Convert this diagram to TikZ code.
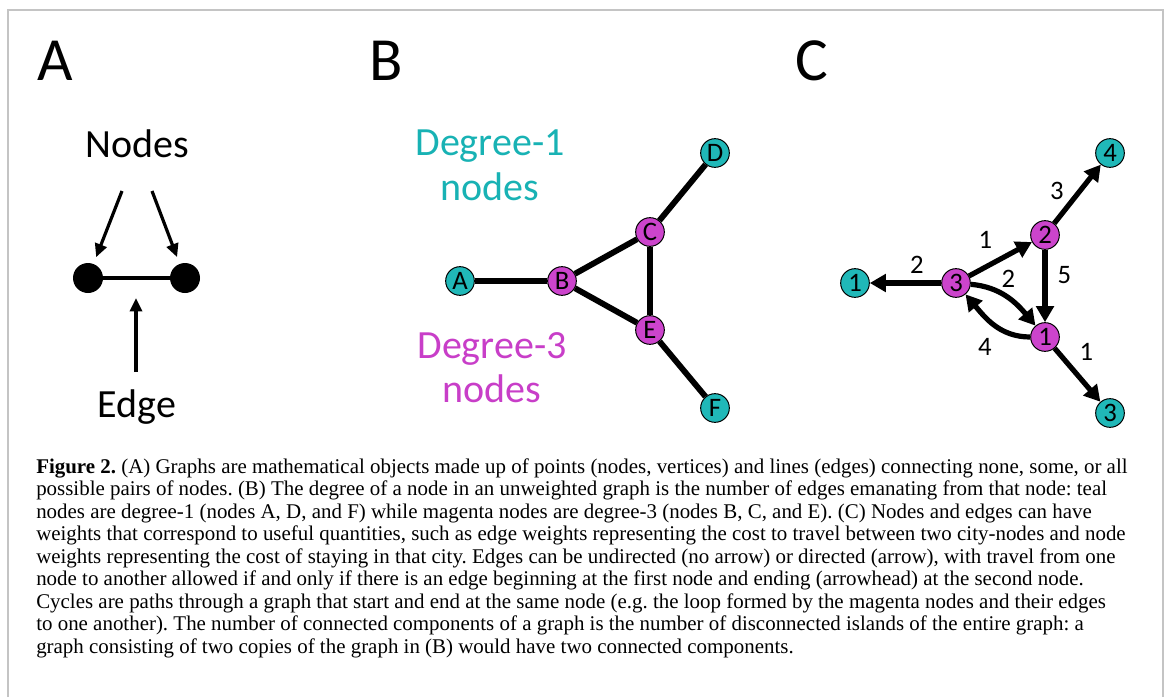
\documentclass[tikz,border=0pt]{standalone}
\usepackage{fontspec}
\setmainfont{Liberation Serif}
\newfontfamily\figfont{Carlito}
\usepackage{xcolor}
\usetikzlibrary{arrows.meta,positioning,calc}
\frenchspacing

\definecolor{tealnode}{RGB}{32,184,184}
\definecolor{magnode}{RGB}{204,68,204}
\definecolor{tealtext}{RGB}{24,178,180}
\definecolor{magtext}{RGB}{200,62,200}
\definecolor{framegray}{RGB}{196,196,196}

\begin{document}
\begin{tikzpicture}[
    x=0.75pt, y=0.75pt,
    panel/.style={font=\figfont\fontsize{46}{46}\selectfont, anchor=base, inner sep=0pt},
    bigtext/.style={font=\figfont\fontsize{30}{34}\selectfont, anchor=base, inner sep=0pt},
    vert/.style={circle, draw, line width=0.75pt, minimum size=21.5pt, inner sep=0pt, font=\figfont\fontsize{20}{20}\selectfont},
    leaf/.style={vert, fill=tealnode},
    hub/.style={vert, fill=magnode},
    dot/.style={circle, fill=black, minimum size=22.5pt, inner sep=0pt},
    link/.style={line width=4.4pt},
    ptr/.style={-{Triangle[length=10pt,width=9pt]}, line width=2.4pt},
    warc/.style={-{Triangle[length=12pt,width=13pt]}, line width=3.9pt},
    wt/.style={font=\figfont\fontsize{20}{20}\selectfont, inner sep=1pt},
    capline/.style={anchor=base west, inner sep=0pt, font=\fontsize{15.7}{18}\selectfont}
]
\useasboundingbox (0,0) rectangle (1167,-697);
\draw[framegray, line width=1.1pt] (8,-697) -- (8,-10) -- (1163,-10) -- (1163,-697);

% panel A
\node[panel] (pa) at (55,-80) {A};
\node[bigtext] (lblnodes) at (137,-157) {Nodes};
\node[bigtext] (lbledge) at (137,-417) {Edge};
\node[dot] (dotl) at (88,-278) {};
\node[dot] (dotr) at (185,-278) {};
\coordinate (nl) at (122,-191);
\coordinate (nr) at (152,-191);
\coordinate (eb) at (136,-372);
\coordinate (etip) at (136,-298);
\draw[line width=3pt] (dotl) -- (dotr);
\draw[ptr, shorten >=5.3pt] (nl) -- (dotl);
\draw[ptr, shorten >=5.3pt] (nr) -- (dotr);
\draw[ptr] (eb) -- (etip);

% panel B
\node[panel] (pb) at (386,-80) {B};
\node[bigtext, text=tealtext] (deg1) at (490,-155) {Degree-1};
\node[bigtext, text=tealtext] (deg1n) at (490,-200) {nodes};
\node[bigtext, text=magtext] (deg3) at (492,-358) {Degree-3};
\node[bigtext, text=magtext] (deg3n) at (492,-402) {nodes};
\node[leaf] (a) at (460,-281) {A};
\node[hub] (b) at (562,-281) {B};
\node[hub] (c) at (650,-232) {C};
\node[leaf] (d) at (715,-153) {D};
\node[hub] (e) at (650,-330) {E};
\node[leaf] (f) at (715,-408) {F};
\foreach \u/\v in {a/b,b/c,b/e,c/e,c/d,e/f} {
    \draw[link] (\u) -- (\v);
}

% panel C
\node[panel] (pc) at (812,-80) {C};
\node[leaf] (t1) at (855,-283) {1};
\node[hub] (m3) at (956,-283) {3};
\node[hub] (m2) at (1045,-235) {2};
\node[hub] (m1) at (1045,-337) {1};
\node[leaf] (t4) at (1110,-153) {4};
\node[leaf] (t3) at (1110,-413) {3};
\draw[warc] (m3) -- node[wt, pos=0.34, above=4pt] {2} (t1);
\draw[warc] (m3) -- node[wt, pos=0.45, above left=6pt and 1pt] {1} (m2);
\draw[warc] (m2) -- node[wt, pos=0.36, above left=-1pt and 2.5pt] {3} (t4);
\draw[warc] (m2) -- node[wt, pos=0.35, right=6.5pt] {5} (m1);
\draw[warc] (m1) -- node[wt, pos=0.36, above right=2pt and 3.5pt] {1} (t3);
\draw[warc] (m3) to[out=-5, in=130] node[wt, pos=0.35, above right=0pt and 0pt] {2} (m1);
\draw[warc] (m1) to[out=180, in=-50] node[wt, pos=0.45, below left=6pt and 1pt] {4} (m3);

% caption
\foreach \t [count=\k from 0] in {
    {\textbf{Figure 2.} (A) Graphs are mathematical objects made up of points (nodes, vertices) and lines (edges) connecting none, some, or all},
    {possible pairs of nodes. (B) The degree of a node in an unweighted graph is the number of edges emanating from that node: teal},
    {nodes are degree-1 (nodes A, D, and F) while magenta nodes are degree-3 (nodes B, C, and E). (C) Nodes and edges can have},
    {weights that correspond to useful quantities, such as edge weights representing the cost to travel between two city-nodes and node},
    {weights representing the cost of staying in that city. Edges can be undirected (no arrow) or directed (arrow), with travel from one},
    {node to another allowed if and only if there is an edge beginning at the first node and ending (arrowhead) at the second node.},
    {Cycles are paths through a graph that start and end at the same node (e.g. the loop formed by the magenta nodes and their edges},
    {to one another). The number of connected components of a graph is the number of disconnected islands of the entire graph: a},
    {graph consisting of two copies of the graph in (B) would have two connected components.}} {
    \node[capline] (cap\k) at (36,{-473-22.5*\k}) {\t};
}
\end{tikzpicture}
\end{document}
